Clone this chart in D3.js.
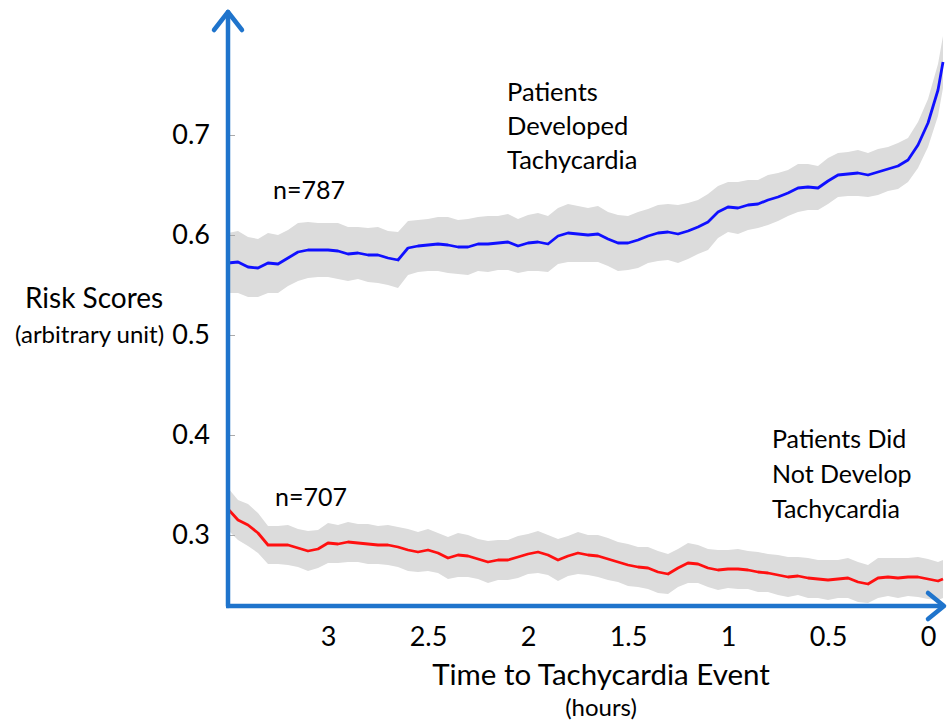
<!DOCTYPE html>
<html>
<head>
<meta charset="utf-8">
<script src="https://cdn.jsdelivr.net/npm/d3@7"></script>
<style>
  body { margin: 0; background: #fff; }
  #graphic { width: 949px; height: 720px; }
  text { font-family: Lato, "Open Sans", sans-serif; fill: #000; }
</style>
</head>
<body>
<div id="graphic"></div>
<script>
// hours before the tachycardia event
const hours = [
  3.5, 3.45, 3.4, 3.35, 3.3, 3.25, 3.2, 3.15, 3.1, 3.05,
  3.0, 2.95, 2.9, 2.85, 2.8, 2.75, 2.7, 2.65, 2.6, 2.55,
  2.5, 2.45, 2.4, 2.35, 2.3, 2.25, 2.2, 2.15, 2.1, 2.05,
  2.0, 1.95, 1.9, 1.85, 1.8, 1.75, 1.7, 1.65, 1.6, 1.55,
  1.5, 1.45, 1.4, 1.35, 1.3, 1.25, 1.2, 1.15, 1.1, 1.05,
  1.0, 0.95, 0.9, 0.85, 0.8, 0.75, 0.7, 0.65, 0.6, 0.55,
  0.5, 0.45, 0.4, 0.35, 0.3, 0.25, 0.2, 0.15, 0.1, 0.05,
  0, -0.05, -0.075
];

// patients who developed tachycardia (n=787)
const developedRisk = [
  0.572, 0.573, 0.568, 0.567, 0.572, 0.571, 0.577, 0.583, 0.585, 0.585,
  0.585, 0.584, 0.581, 0.582, 0.580, 0.580, 0.577, 0.575, 0.587, 0.589,
  0.590, 0.591, 0.590, 0.588, 0.588, 0.591, 0.591, 0.592, 0.593, 0.589,
  0.592, 0.593, 0.591, 0.599, 0.602, 0.601, 0.600, 0.601, 0.596, 0.592,
  0.592, 0.595, 0.599, 0.602, 0.603, 0.601, 0.604, 0.608, 0.613, 0.623,
  0.628, 0.627, 0.630, 0.631, 0.635, 0.638, 0.642, 0.647, 0.648, 0.647,
  0.654, 0.660, 0.661, 0.662, 0.660, 0.663, 0.666, 0.669, 0.675, 0.690,
  0.712, 0.745, 0.773
];
const developedSpread = [
  0.030, 0.031, 0.030, 0.029, 0.030, 0.029, 0.028, 0.029, 0.028, 0.027,
  0.027, 0.028, 0.027, 0.026, 0.027, 0.028, 0.027, 0.028, 0.027, 0.026,
  0.026, 0.027, 0.028, 0.027, 0.028, 0.027, 0.028, 0.027, 0.028, 0.027,
  0.028, 0.029, 0.028, 0.028, 0.029, 0.028, 0.027, 0.028, 0.027, 0.028,
  0.027, 0.028, 0.027, 0.028, 0.028, 0.029, 0.028, 0.027, 0.028, 0.026,
  0.025, 0.026, 0.025, 0.024, 0.025, 0.024, 0.023, 0.024, 0.023, 0.022,
  0.023, 0.022, 0.022, 0.023, 0.022, 0.023, 0.022, 0.023, 0.022, 0.023,
  0.024, 0.026, 0.026
];

// patients who did not develop tachycardia (n=707)
const notDevelopedRisk = [
  0.326, 0.315, 0.310, 0.302, 0.290, 0.290, 0.290, 0.287, 0.284, 0.286,
  0.292, 0.291, 0.293, 0.292, 0.291, 0.290, 0.290, 0.288, 0.285, 0.283,
  0.285, 0.282, 0.277, 0.280, 0.279, 0.276, 0.273, 0.275, 0.275, 0.278,
  0.281, 0.283, 0.280, 0.275, 0.279, 0.282, 0.280, 0.279, 0.276, 0.273,
  0.270, 0.268, 0.267, 0.263, 0.261, 0.267, 0.272, 0.271, 0.267, 0.265,
  0.266, 0.266, 0.265, 0.263, 0.262, 0.260, 0.258, 0.259, 0.257, 0.256,
  0.255, 0.256, 0.257, 0.253, 0.251, 0.257, 0.258, 0.257, 0.258, 0.258,
  0.256, 0.254, 0.256
];
const notDevelopedSpread = [
  0.021, 0.020, 0.021, 0.020, 0.019, 0.019, 0.020, 0.019, 0.020, 0.019,
  0.020, 0.019, 0.020, 0.019, 0.020, 0.019, 0.020, 0.020, 0.021, 0.020,
  0.021, 0.020, 0.021, 0.022, 0.021, 0.020, 0.021, 0.020, 0.020, 0.021,
  0.020, 0.021, 0.020, 0.021, 0.020, 0.021, 0.020, 0.021, 0.021, 0.020,
  0.021, 0.020, 0.021, 0.021, 0.020, 0.019, 0.020, 0.019, 0.019, 0.020,
  0.019, 0.020, 0.019, 0.020, 0.019, 0.020, 0.020, 0.019, 0.020, 0.019,
  0.020, 0.019, 0.020, 0.020, 0.019, 0.020, 0.019, 0.020, 0.019, 0.020,
  0.020, 0.019, 0.019
];

const xTicks = [3, 2.5, 2, 1.5, 1, 0.5, 0];
const yTicks = [0.3, 0.4, 0.5, 0.6, 0.7];

const Chart = {
  el: "#graphic",
  width: 949,
  height: 720,
  axisColor: "#1f74cc",
  bandColor: "#dcdcdc",
  developedColor: "#1010ff",
  notDevelopedColor: "#ff1010",
  // plot box (where the two axes sit)
  box: { left: 228, right: 945, top: 10, bottom: 606 },

  createScales(){
    this.xScale = d3.scaleLinear()
      .domain([3.5, -0.085])
      .range([this.box.left, this.box.right]);

    this.yScale = d3.scaleLinear()
      .domain([0.229, 0.825])
      .range([this.box.bottom, this.box.top]);
  },
  drawPlot(){
    document.querySelector(this.el).innerHTML = "";
    this.svg = d3.select(this.el)
      .append("svg")
      .attr("width", this.width)
      .attr("height", this.height);
  },
  drawSeries(values, spread, color){
    const rows = hours.map((h, i) => ({ h: h, v: values[i], s: spread[i] }));

    const area = d3.area()
      .x(d => this.xScale(d.h))
      .y0(d => this.yScale(d.v - d.s))
      .y1(d => this.yScale(d.v + d.s));

    const line = d3.line()
      .x(d => this.xScale(d.h))
      .y(d => this.yScale(d.v));

    this.svg.append("path")
      .datum(rows)
      .attr("fill", this.bandColor)
      .attr("d", area);

    this.lines.push({ rows: rows, line: line, color: color });
  },
  drawLines(){
    this.lines.forEach(l => {
      this.svg.append("path")
        .datum(l.rows)
        .attr("fill", "none")
        .attr("stroke", l.color)
        .attr("stroke-width", 2.8)
        .attr("stroke-linejoin", "round")
        .attr("d", l.line);
    });
  },
  drawAxes(){
    const x0 = this.box.left, y0 = this.box.bottom;

    const yAxis = d3.axisLeft(this.yScale)
      .tickValues(yTicks)
      .tickSizeInner(-5)
      .tickSizeOuter(0)
      .tickPadding(18)
      .tickFormat(d3.format(".1f"));

    const gy = this.svg.append("g")
      .attr("transform", `translate(${x0},0)`)
      .call(yAxis);
    gy.select(".domain").remove();
    gy.selectAll(".tick line").attr("stroke", "#aaa").attr("transform", "translate(2,0)");
    gy.selectAll("text").style("font-size", "27px").attr("fill", "#000");

    const xAxis = d3.axisBottom(this.xScale)
      .tickValues(xTicks)
      .tickSize(0)
      .tickPadding(21)
      .tickFormat(d3.format(""));

    const gx = this.svg.append("g")
      .attr("transform", `translate(0,${y0})`)
      .call(xAxis);
    gx.select(".domain").remove();
    gx.selectAll("text").style("font-size", "27px").attr("fill", "#000");

    // axis lines with open arrow heads
    const ax = this.svg.append("g")
      .attr("fill", "none")
      .attr("stroke", this.axisColor)
      .attr("stroke-width", 4.5)
      .attr("stroke-linecap", "round")
      .attr("stroke-linejoin", "round");

    ax.append("path")
      .attr("d", `M${x0},${y0} V${this.box.top + 2}`);
    ax.append("path")
      .attr("d", `M${x0 - 14},${this.box.top + 20} L${x0},${this.box.top + 2} L${x0 + 14},${this.box.top + 20}`);

    ax.append("path")
      .attr("stroke-linecap", "butt")
      .attr("d", `M${x0 - 2},${y0} H${this.box.right - 1}`);
    ax.append("path")
      .attr("d", `M${this.box.right - 17},${y0 - 13} L${this.box.right - 1},${y0} L${this.box.right - 17},${y0 + 13}`);
  },
  drawLabels(){
    const t = (x, y, str, size, anchor) => this.svg.append("text")
      .attr("x", x).attr("y", y)
      .attr("text-anchor", anchor || "start")
      .style("font-size", size + "px")
      .text(str);

    t(25, 308, "Risk Scores", 28);
    t(15, 343, "(arbitrary unit)", 24);

    t(601, 685, "Time to Tachycardia Event", 29.5, "middle");
    t(601, 716, "(hours)", 24, "middle");

    t(273, 199, "n=787", 25);
    t(275, 506, "n=707", 25);

    ["Patients", "Developed", "Tachycardia"].forEach((s, i) => t(507, 101 + i * 34, s, 25.5));
    ["Patients Did", "Not Develop", "Tachycardia"].forEach((s, i) => t(772, 448 + i * 35, s, 25));
  },
  draw(){
    this.lines = [];
    this.createScales();
    this.drawPlot();
    this.drawSeries(developedRisk, developedSpread, this.developedColor);
    this.drawSeries(notDevelopedRisk, notDevelopedSpread, this.notDevelopedColor);
    this.drawLines();
    this.drawAxes();
    this.drawLabels();
  }
};

Chart.draw();
</script>
</body>
</html>
